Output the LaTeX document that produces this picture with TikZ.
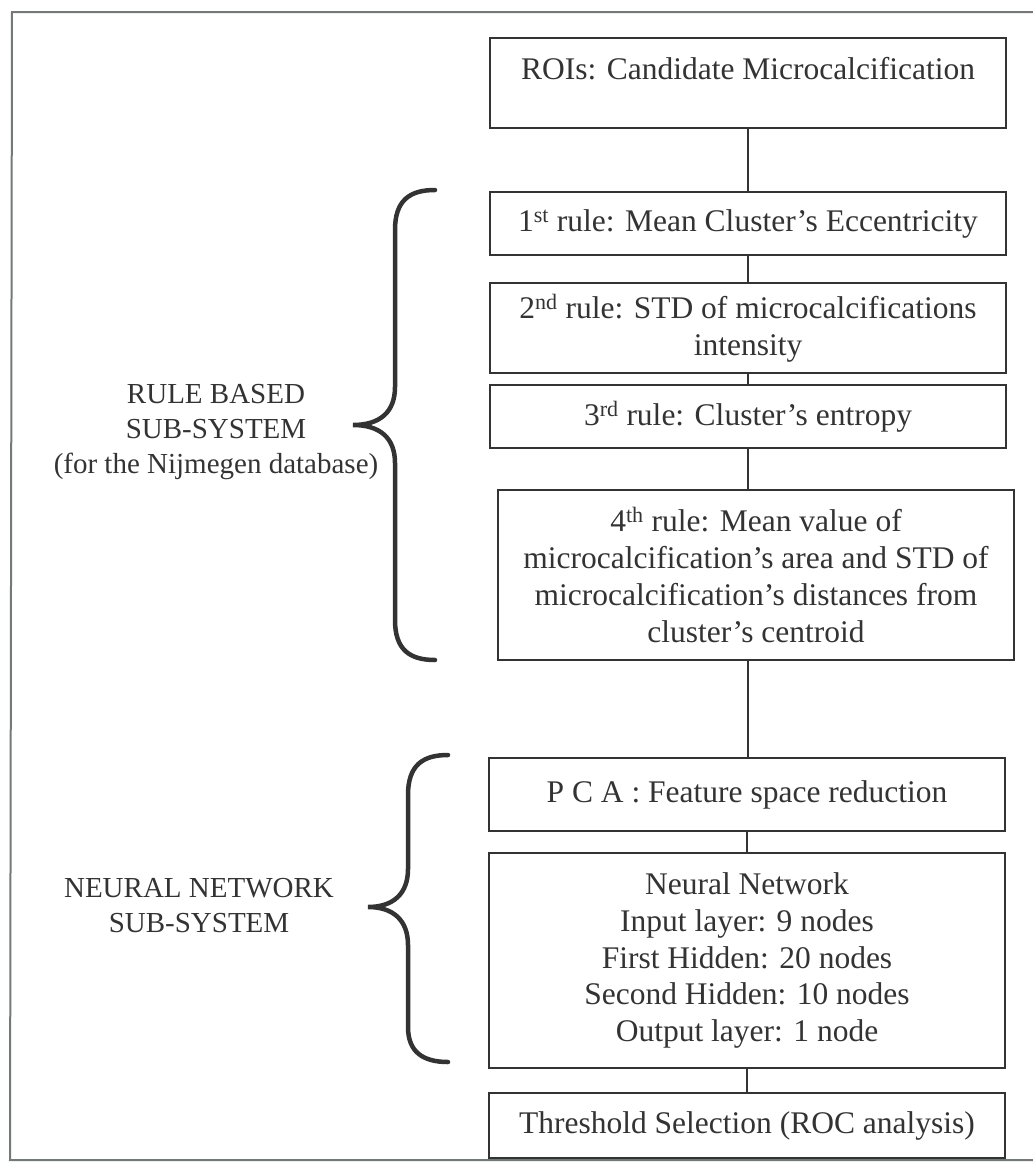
\documentclass[tikz,border=0pt]{standalone}
\usepackage{fontspec}
\setmainfont{Liberation Serif}
\definecolor{ink}{rgb}{0.2,0.2,0.2}
\definecolor{frame}{rgb}{0.45,0.47,0.47}
\newcommand\boxfont{\fontsize{31.5}{36.7}\selectfont}
\newcommand\labfont{\fontsize{29}{35}\selectfont}
\begin{document}
\begin{tikzpicture}[x=1pt,y=-1pt,
  box/.style={draw=ink, line width=2.5pt, minimum width=516pt, inner sep=0pt,
    align=center, font=\boxfont, text=ink},
  conn/.style={draw=ink, line width=1.5pt},
  brace/.style={draw=ink, line width=4.5pt, line cap=round},
  lab/.style={align=center, font=\labfont, text=ink, inner sep=0pt}]
\useasboundingbox (0,0) rectangle (1033,1162);
% outer frame (right side cut off)
\draw[frame, line width=2pt] (1033,12) -- (12,12) -- (10,1160) -- (1033,1160);
% boxes
\node[box, minimum height=90pt, text depth=29pt] (roi) at (748,83) {ROIs: Candidate Microcalcification};
\node[box, minimum height=63pt] (r1) at (748,223.5) {1\textsuperscript{st} rule: Mean Cluster’s Eccentricity};
\node[box, minimum height=90pt] (r2) at (748,328) {2\textsuperscript{nd} rule: STD of microcalcifications\\intensity};
\node[box, minimum height=63pt] (r3) at (748,416.5) {3\textsuperscript{rd} rule: Cluster’s entropy};
\node[box, minimum height=170pt] (r4) at (756,575) {4\textsuperscript{th} rule: Mean value of\\microcalcification’s area and STD of\\microcalcification’s distances from\\cluster’s centroid};
\node[box, minimum height=73pt] (pca) at (747,794.5) {P C A : Feature space reduction};
\node[box, minimum height=215pt] (nn) at (747,960.5) {Neural Network\\Input layer: 9 nodes\\First Hidden: 20 nodes\\Second Hidden: 10 nodes\\Output layer: 1 node};
\node[box, minimum height=65pt] (thr) at (747,1125.5) {Threshold Selection (ROC analysis)};
% connectors
\draw[conn] (roi.south) -- (roi.south |- r1.north);
\draw[conn] (r1.south) -- (r1.south |- r2.north);
\draw[conn] (r2.south) -- (r2.south |- r3.north);
\draw[conn] (r3.south) -- (r3.south |- r4.north);
\draw[conn] (r3.south |- r4.south) -- (r3.south |- pca.north);
\draw[conn] (pca.south) -- (pca.south |- nn.north);
\draw[conn] (nn.south) -- (nn.south |- thr.north);
% braces
\draw[brace] (435,190) .. controls (410,190) and (395,200) .. (395,230) -- (395,387)
  .. controls (395,412) and (380,425) .. (353,425)
  .. controls (380,425) and (395,438) .. (395,463) -- (395,620)
  .. controls (395,650) and (410,660) .. (435,660);
\draw[brace] (448,755) .. controls (423,755) and (408,765) .. (408,795) -- (408,869)
  .. controls (408,894) and (393,907) .. (368,907)
  .. controls (393,907) and (408,920) .. (408,945) -- (408,1027)
  .. controls (408,1052) and (423,1062) .. (448,1062);
% labels
\node[lab] (rb) at (216,432) {RULE BASED\\SUB-SYSTEM\\(for the Nijmegen database)};
\node[lab] (nns) at (199,906) {NEURAL NETWORK\\SUB-SYSTEM};
\end{tikzpicture}
\end{document}
